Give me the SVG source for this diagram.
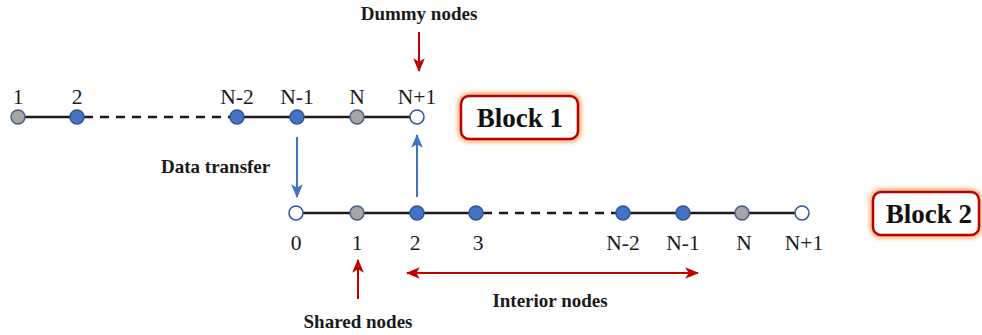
<svg xmlns="http://www.w3.org/2000/svg" width="982" height="335" viewBox="0 0 982 335">
  <defs>
    <marker id="headRed" viewBox="0 0 12 10" refX="11" refY="5" markerWidth="7" markerHeight="6" orient="auto-start-reverse" markerUnits="strokeWidth">
      <path d="M0,0 L12,5 L0,10 L3,5 Z" fill="#c00000"/>
    </marker>
    <marker id="headBlue" viewBox="0 0 12 10" refX="11" refY="5" markerWidth="7" markerHeight="6" orient="auto-start-reverse" markerUnits="strokeWidth">
      <path d="M0,0 L12,5 L0,10 L3,5 Z" fill="#4472c4"/>
    </marker>
    <filter id="glow" x="-20%" y="-30%" width="140%" height="160%">
      <feGaussianBlur stdDeviation="2.5"/>
    </filter>
  </defs>
  <style>
    .line { stroke: #1a1a1a; stroke-width: 2.5; fill: none; }
    .dash { stroke-dasharray: 9 7; }
    .blue { fill: #4472c4; stroke: #2f5597; stroke-width: 1.5; }
    .gray { fill: #a6a6a6; stroke: #44608f; stroke-width: 1.5; }
    .empty { fill: #ffffff; stroke: #2f5597; stroke-width: 1.5; }
    .num { font-family: "Liberation Serif", serif; font-size: 21.5px; fill: #1a1a1a; text-anchor: middle; }
    .note { font-family: "Liberation Serif", serif; font-size: 19px; font-weight: bold; fill: #1a1a1a; }
    .block { font-family: "Liberation Serif", serif; font-size: 27px; font-weight: bold; fill: #111; text-anchor: middle; }
    .boxglow { fill: none; stroke: #f4a460; stroke-width: 6; filter: url(#glow); }
    .box { fill: #ffffff; stroke: #c00000; stroke-width: 2.5; }
    .red { stroke: #c00000; stroke-width: 2; fill: none; }
    .bl { stroke: #4472c4; stroke-width: 2; fill: none; }
  </style>

  <!-- connectors -->
  <g id="connectors">
    <!-- block 1 line -->
    <line class="line" x1="18" y1="117" x2="77" y2="117"/>
    <line class="line dash" x1="84" y1="117" x2="232" y2="117"/>
    <line class="line" x1="237" y1="117" x2="417" y2="117"/>
    <!-- block 2 line -->
    <line class="line" x1="296" y1="213" x2="476" y2="213"/>
    <line class="line dash" x1="483" y1="213" x2="618" y2="213"/>
    <line class="line" x1="623" y1="213" x2="802" y2="213"/>
    <!-- data transfer -->
    <line class="bl" x1="297" y1="137" x2="297" y2="197" marker-end="url(#headBlue)"/>
    <line class="bl" x1="417" y1="197" x2="417" y2="135" marker-end="url(#headBlue)"/>
    <!-- labels' arrows -->
    <line class="red" x1="419" y1="32" x2="419" y2="71" marker-end="url(#headRed)"/>
    <line class="red" x1="358" y1="299" x2="358" y2="260" marker-end="url(#headRed)"/>
    <line class="red" x1="407" y1="273" x2="698" y2="273" marker-start="url(#headRed)" marker-end="url(#headRed)"/>
  </g>

  <!-- block 1 nodes -->
  <g id="b1-n1"><circle class="gray" cx="18" cy="117" r="7"/><text class="num" x="18" y="104">1</text></g>
  <g id="b1-n2"><circle class="blue" cx="77" cy="117" r="7"/><text class="num" x="77" y="104">2</text></g>
  <g id="b1-nm2"><circle class="blue" cx="237" cy="117" r="7"/><text class="num" x="237" y="104">N-2</text></g>
  <g id="b1-nm1"><circle class="blue" cx="297" cy="117" r="7"/><text class="num" x="297" y="104">N-1</text></g>
  <g id="b1-nN"><circle class="gray" cx="357" cy="117" r="7"/><text class="num" x="357" y="104">N</text></g>
  <g id="b1-np1"><circle class="empty" cx="417" cy="117" r="7"/><text class="num" x="417" y="104">N+1</text></g>

  <!-- block 2 nodes -->
  <g id="b2-n0"><circle class="empty" cx="296" cy="213" r="7"/><text class="num" x="296" y="250">0</text></g>
  <g id="b2-n1"><circle class="gray" cx="357" cy="213" r="7"/><text class="num" x="357" y="250">1</text></g>
  <g id="b2-n2"><circle class="blue" cx="417" cy="213" r="7"/><text class="num" x="415" y="250">2</text></g>
  <g id="b2-n3"><circle class="blue" cx="476" cy="213" r="7"/><text class="num" x="478" y="250">3</text></g>
  <g id="b2-nm2"><circle class="blue" cx="623" cy="213" r="7"/><text class="num" x="623" y="250">N-2</text></g>
  <g id="b2-nm1"><circle class="blue" cx="683" cy="213" r="7"/><text class="num" x="683" y="250">N-1</text></g>
  <g id="b2-nN"><circle class="gray" cx="742" cy="213" r="7"/><text class="num" x="744" y="250">N</text></g>
  <g id="b2-np1"><circle class="empty" cx="802" cy="213" r="7"/><text class="num" x="804" y="250">N+1</text></g>

  <!-- block labels -->
  <g id="block1">
    <rect class="boxglow" x="461" y="96" width="117" height="43" rx="8"/>
    <rect class="box" x="461" y="96" width="117" height="43" rx="8"/>
    <text class="block" x="520" y="127">Block 1</text>
  </g>
  <g id="block2">
    <rect class="boxglow" x="873" y="192" width="106" height="43" rx="8"/>
    <rect class="box" x="873" y="192" width="106" height="43" rx="8"/>
    <text class="block" x="929" y="223">Block 2</text>
  </g>

  <!-- annotations -->
  <g id="note-dummy"><text class="note" x="419" y="20" text-anchor="middle">Dummy nodes</text></g>
  <g id="note-transfer"><text class="note" x="161" y="173">Data transfer</text></g>
  <g id="note-shared"><text class="note" x="358" y="328" text-anchor="middle">Shared nodes</text></g>
  <g id="note-interior"><text class="note" x="550" y="307" text-anchor="middle">Interior nodes</text></g>
</svg>
